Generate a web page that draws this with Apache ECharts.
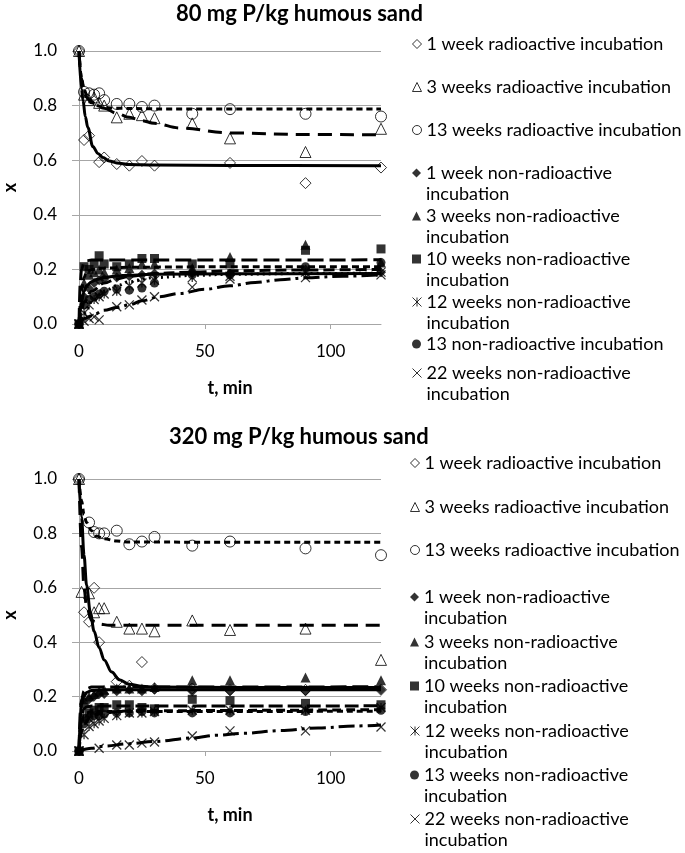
<!DOCTYPE html>
<html><head><meta charset="utf-8">
<script src="https://cdn.jsdelivr.net/npm/echarts@6/dist/echarts.min.js"></script>
<style>html,body{margin:0;padding:0;background:#fff}#c{width:685px;height:853px}</style>
</head><body><div id="c"></div>
<script>
// ---------- text ----------
const titleTop = '80 mg P/kg humous sand';
const titleBot = '320 mg P/kg humous sand';
const xName = 't, min';
const yName = 'x';
const namesTop = ['1 week radioactive incubation','3 weeks radioactive incubation','13 weeks radioactive incubation',
  '1 week non-radioactive incubation','3 weeks non-radioactive incubation','10 weeks non-radioactive incubation',
  '12 weeks non-radioactive incubation','13 non-radioactive incubation','22 weeks non-radioactive incubation'];
const namesBot = ['1 week radioactive incubation','3 weeks radioactive incubation','13 weeks radioactive incubation',
  '1 week non-radioactive incubation','3 weeks non-radioactive incubation','10 weeks non-radioactive incubation',
  '12 weeks non-radioactive incubation','13 weeks non-radioactive incubation','22 weeks non-radioactive incubation'];
const xTicks = [0, 50, 100];

// ---------- measured points, 80 mg P/kg ----------
const top_r1w = [[0,1.0],[2,0.674],[4,0.69],[8,0.593],[10,0.61],[15,0.586],[20,0.58],[25,0.597],[30,0.58],[60,0.59],[90,0.516],[120,0.573]];
const top_r3w = [[0,1.0],[2,0.84],[4,0.82],[6,0.83],[8,0.81],[10,0.80],[15,0.757],[20,0.77],[25,0.765],[30,0.754],[45,0.735],[60,0.68],[90,0.63],[120,0.715]];
const top_r13w = [[0,1.0],[2,0.85],[4,0.845],[6,0.84],[8,0.845],[10,0.82],[15,0.806],[20,0.806],[25,0.795],[30,0.80],[45,0.77],[60,0.787],[90,0.77],[120,0.76]];
const top_n1w = [[0,0],[2,0.1],[4,0.13],[6,0.15],[8,0.16],[10,0.165],[15,0.17],[20,0.175],[25,0.18],[30,0.185],[45,0.19],[60,0.185],[90,0.2],[120,0.19]];
const top_n3w = [[0,0],[2,0.15],[4,0.18],[6,0.19],[8,0.2],[10,0.19],[15,0.2],[20,0.205],[25,0.22],[30,0.22],[45,0.205],[60,0.245],[90,0.29],[120,0.225]];
const top_n10w = [[0,0],[2,0.21],[4,0.2],[6,0.22],[8,0.25],[10,0.22],[15,0.21],[20,0.22],[25,0.24],[30,0.24],[45,0.22],[60,0.22],[90,0.27],[120,0.275]];
const top_n12w = [[0,0],[2,0.04],[4,0.07],[6,0.09],[8,0.1],[10,0.11],[15,0.12],[20,0.14],[25,0.15],[30,0.16],[45,0.17],[60,0.175],[90,0.19],[120,0.19]];
const top_n13w = [[0,0],[2,0.07],[4,0.09],[6,0.1],[8,0.11],[10,0.12],[15,0.128],[20,0.124],[25,0.132],[30,0.15],[45,0.18],[60,0.18],[90,0.21],[120,0.225]];
const top_n22w = [[0,0],[2,0.01],[4,0.02],[6,0.026],[8,0.015],[15,0.063],[20,0.07],[25,0.088],[30,0.1],[45,0.135],[60,0.165],[90,0.17],[120,0.18]];

// ---------- fitted curves, 80 mg P/kg ----------
const topFit_r1w = [[0,1],[1,0.86],[1.6,0.82],[2.5,0.76],[3.5,0.72],[5.5,0.65],[7.5,0.625],[9.5,0.61],[12,0.597],[15,0.59],[20,0.584],[30,0.582],[60,0.581],[120,0.58]];
const topFit_r3w = [[0,1],[1,0.9],[2,0.85],[3,0.83],[5,0.81],[10,0.79],[15,0.772],[20,0.757],[25,0.745],[30,0.735],[40,0.718],[60,0.70],[90,0.694],[120,0.693]];
const topFit_r13w = [[0,1],[1,0.9],[2,0.86],[3,0.84],[5,0.815],[7,0.8],[10,0.793],[15,0.79],[30,0.788],[120,0.788]];
const topFit_n1w = [[0,0],[1,0.08],[2,0.12],[3,0.14],[5,0.155],[7,0.163],[10,0.17],[15,0.176],[20,0.179],[30,0.182],[60,0.184],[120,0.185]];
const topFit_n3w = [[0,0],[1,0.12],[2,0.17],[3,0.19],[5,0.2],[10,0.205],[20,0.208],[60,0.21],[120,0.21]];
const topFit_n10w = [[0,0],[0.5,0.15],[1,0.2],[2,0.225],[3,0.232],[5,0.234],[120,0.235]];
const topFit_n12w = [[0,0],[2,0.04],[5,0.08],[10,0.12],[15,0.14],[20,0.155],[30,0.17],[45,0.178],[60,0.182],[90,0.185],[120,0.186]];
const topFit_n13w = [[0,0],[1,0.05],[2,0.08],[5,0.12],[10,0.15],[15,0.165],[20,0.175],[30,0.185],[45,0.19],[60,0.195],[90,0.198],[120,0.2]];
const topFit_n22w = [[0,0],[2,0.02],[5,0.03],[10,0.05],[15,0.06],[20,0.07],[25,0.085],[32,0.1],[40,0.112],[50,0.127],[60,0.14],[70,0.152],[80,0.162],[90,0.169],[105,0.175],[120,0.18]];

// ---------- measured points, 320 mg P/kg ----------
const bot_r1w = [[0,1.0],[2,0.51],[4,0.475],[6,0.60],[8,0.40],[15,0.255],[20,0.24],[25,0.327],[30,0.23],[45,0.23],[60,0.224],[90,0.225],[120,0.225]];
const bot_r3w = [[0,1.0],[1,0.585],[4,0.58],[6,0.51],[8,0.525],[10,0.525],[15,0.475],[20,0.45],[25,0.45],[30,0.44],[45,0.48],[60,0.445],[90,0.45],[120,0.335]];
const bot_r13w = [[0,1.0],[4,0.84],[6,0.805],[8,0.80],[10,0.80],[15,0.81],[20,0.76],[25,0.77],[30,0.787],[45,0.755],[60,0.77],[90,0.745],[120,0.72]];
const bot_n1w = [[0,0],[2,0.17],[4,0.19],[6,0.2],[8,0.21],[10,0.21],[15,0.22],[20,0.225],[25,0.22],[30,0.225],[45,0.22],[60,0.22],[90,0.22],[120,0.225]];
const bot_n3w = [[0,0],[2,0.19],[4,0.2],[6,0.21],[8,0.22],[10,0.225],[15,0.23],[20,0.23],[25,0.23],[30,0.235],[45,0.26],[60,0.26],[90,0.27],[120,0.26]];
const bot_n10w = [[0,0],[2,0.12],[4,0.14],[6,0.15],[8,0.16],[10,0.16],[15,0.17],[20,0.17],[25,0.16],[30,0.155],[45,0.19],[60,0.185],[90,0.175],[120,0.17]];
const bot_n12w = [[0,0],[2,0.06],[4,0.09],[6,0.1],[8,0.11],[10,0.12],[15,0.13],[20,0.14],[25,0.14],[30,0.145],[45,0.15],[60,0.15],[90,0.15],[120,0.16]];
const bot_n13w = [[0,0],[2,0.1],[4,0.12],[6,0.13],[8,0.13],[10,0.135],[15,0.14],[20,0.14],[25,0.145],[30,0.14],[45,0.14],[60,0.14],[90,0.145],[120,0.15]];
const bot_n22w = [[0,0],[8,0.01],[15,0.022],[20,0.022],[25,0.029],[30,0.033],[45,0.055],[60,0.074],[90,0.074],[120,0.088]];

// ---------- fitted curves, 320 mg P/kg ----------
const botFit_r1w = [[0,1],[1,0.86],[2,0.72],[3,0.61],[4.5,0.51],[6,0.44],[8,0.38],[10,0.335],[13,0.29],[16,0.262],[20,0.245],[25,0.238],[30,0.235],[60,0.233],[120,0.233]];
const botFit_r3w = [[0,1],[1,0.75],[2,0.6],[3,0.53],[5,0.48],[8,0.467],[12,0.462],[120,0.462]];
const botFit_r13w = [[0,1],[1,0.92],[2,0.87],[3,0.84],[5,0.81],[7,0.79],[10,0.78],[15,0.772],[20,0.768],[120,0.767]];
const botFit_n1w = [[0,0],[0.5,0.12],[1,0.17],[2,0.2],[3,0.215],[5,0.222],[10,0.225],[120,0.225]];
const botFit_n3w = [[0,0],[0.5,0.14],[1,0.19],[2,0.22],[3,0.23],[5,0.235],[120,0.236]];
const botFit_n10w = [[0,0],[0.5,0.09],[1,0.13],[2,0.155],[3,0.162],[5,0.165],[120,0.166]];
const botFit_n12w = [[0,0],[1,0.07],[2,0.1],[5,0.13],[10,0.14],[20,0.148],[120,0.152]];
const botFit_n13w = [[0,0],[1,0.1],[2,0.13],[3,0.14],[5,0.145],[120,0.146]];
const botFit_n22w = [[0,0],[5,0.01],[10,0.018],[20,0.027],[30,0.035],[45,0.048],[55,0.058],[65,0.065],[80,0.075],[95,0.085],[110,0.092],[120,0.096]];

// ---------- styles ----------
const FONT = 'Lato, "Open Sans", sans-serif';
const GRID = '#a6a6a6';
const P_STAR = 'path://M5 0L5 10M0 0L10 10M0 10L10 0';
const P_X = 'path://M0 0L10 10M0 10L10 0';
const symbols = ['diamond','triangle','circle','diamond','triangle','rect',P_STAR,'circle',P_X];
const sizes   = [11, 11, 11, 10, 10, 9, 9, 9, 9];
const filled  = [false,false,false,true,true,true,'line',true,'line'];
const dashTop = ['solid',[14,8],[6,4],'solid',[7,4],[16,6],[2,4],[11,5],[16,5,3,5]];
const dashBot = ['solid',[14,8],[6,4],'solid',[16,6],[14,5],[9,5],[6,4],[16,5,3,5]];
const LH = 21.5;
const legYTop = [44, 87, 130, 173, 216, 259, 302, 344, 373];
const legYBot = [463, 507, 550, 597, 642, 686, 731, 775, 819];

const ptsTop = [top_r1w, top_r3w, top_r13w, top_n1w, top_n3w, top_n10w, top_n12w, top_n13w, top_n22w];
const fitTop = [topFit_r1w, topFit_r3w, topFit_r13w, topFit_n1w, topFit_n3w, topFit_n10w, topFit_n12w, topFit_n13w, topFit_n22w];
const ptsBot = [bot_r1w, bot_r3w, bot_r13w, bot_n1w, bot_n3w, bot_n10w, bot_n12w, bot_n13w, bot_n22w];
const fitBot = [botFit_r1w, botFit_r3w, botFit_r13w, botFit_n1w, botFit_n3w, botFit_n10w, botFit_n12w, botFit_n13w, botFit_n22w];

function itemStyleFor(i) {
  if (filled[i] === true) return {color:'#000', borderColor:'#000', borderWidth:0};
  if (filled[i] === 'line') return {color:'#000', borderColor:'#000', borderWidth:1.3};
  return {color:'rgba(255,255,255,0)', borderColor:'#000', borderWidth:1};
}

const series = [];
function addChart(g, names, pts, fits, dashes) {
  for (let i = 0; i < 9; i++) {
    series.push({
      type:'line', name:'fit'+g+'_'+i, xAxisIndex:g, yAxisIndex:g, data:fits[i],
      showSymbol:false, symbol:'none', smooth:0.35, smoothMonotone:'x', silent:true, z:2,
      lineStyle:{color:'#000', width:3, type:dashes[i], cap:'butt'}
    });
  }
  for (let i = 0; i < 9; i++) {
    series.push({
      type:'scatter', name:names[i], xAxisIndex:g, yAxisIndex:g, data:pts[i],
      symbol:symbols[i], symbolSize:sizes[i], itemStyle:itemStyleFor(i), clip:false, z:3, silent:true
    });
  }
}
addChart(0, namesTop, ptsTop, fitTop, dashTop);
addChart(1, namesBot, ptsBot, fitBot, dashBot);

function wrapName(n) {
  if (n.indexOf('non-radioactive') < 0 || n.indexOf('13 non') === 0) return n;
  return n.replace('non-radioactive ', 'non-radioactive\n');
}
const legends = [];
function addLegends(names, ys, left) {
  names.forEach((n, i) => {
    let txt = wrapName(n);
    const two = txt.indexOf('\n') >= 0;
    if (two) txt = ' \n' + txt;   // blank first row keeps the marker beside the first text row
    legends.push({
      left: left, top: two ? ys[i] - 1.5*LH : ys[i] - LH/2, padding:0,
      itemWidth: 9, itemHeight: 9, itemGap: 0, selectedMode:false,
      data:[{name:n, icon:symbols[i]}],
      formatter: () => txt,
      itemStyle:{borderWidth: filled[i]===true ? 0 : 1},
      textStyle:{fontFamily:FONT, fontSize:18, color:'#000', lineHeight:LH}
    });
  });
}
addLegends(namesTop, legYTop, 412);
addLegends(namesBot, legYBot, 410);

function xAxis(g) {
  return {
    type:'value', gridIndex:g, min:0, max:120, interval:50,
    name:xName, nameLocation:'middle', nameGap:55,
    nameTextStyle:{fontFamily:FONT, fontSize:18, fontWeight:'bold', color:'#000'},
    axisLine:{show:true, onZero:false, lineStyle:{color:GRID, width:1}},
    axisTick:{show:true, length:5, lineStyle:{color:GRID}, customValues:xTicks},
    axisLabel:{fontFamily:FONT, fontSize:17, color:'#000', margin:19, customValues:xTicks},
    splitLine:{show:false}
  };
}
function yAxis(g) {
  return {
    type:'value', gridIndex:g, min:0, max:1, interval:0.2,
    name:yName, nameLocation:'middle', nameGap:60, nameRotate:90,
    nameTextStyle:{fontFamily:FONT, fontSize:18, fontWeight:'bold', color:'#000'},
    axisLine:{show:true, lineStyle:{color:GRID, width:1}},
    axisTick:{show:true, length:7, lineStyle:{color:GRID}},
    axisLabel:{fontFamily:FONT, fontSize:17, color:'#000', margin:22, formatter: v => v.toFixed(1)},
    splitLine:{show:true, lineStyle:{color:GRID, width:1}}
  };
}

const chart = echarts.init(document.getElementById('c'), null, {renderer:'canvas'});
chart.setOption({
  animation:false,
  backgroundColor:'#fff',
  title:[
    {text:titleTop, left:176, top:3, padding:0, textStyle:{fontFamily:FONT, fontSize:22, fontWeight:'bold', color:'#000'}},
    {text:titleBot, left:169, top:426, padding:0, textStyle:{fontFamily:FONT, fontSize:22, fontWeight:'bold', color:'#000'}}
  ],
  grid:[
    {left:76, top:51, width:305, height:273},
    {left:76, top:479, width:305, height:272}
  ],
  xAxis:[xAxis(0), xAxis(1)],
  yAxis:[yAxis(0), yAxis(1)],
  legend: legends,
  series: series
});
</script>
</body></html>
